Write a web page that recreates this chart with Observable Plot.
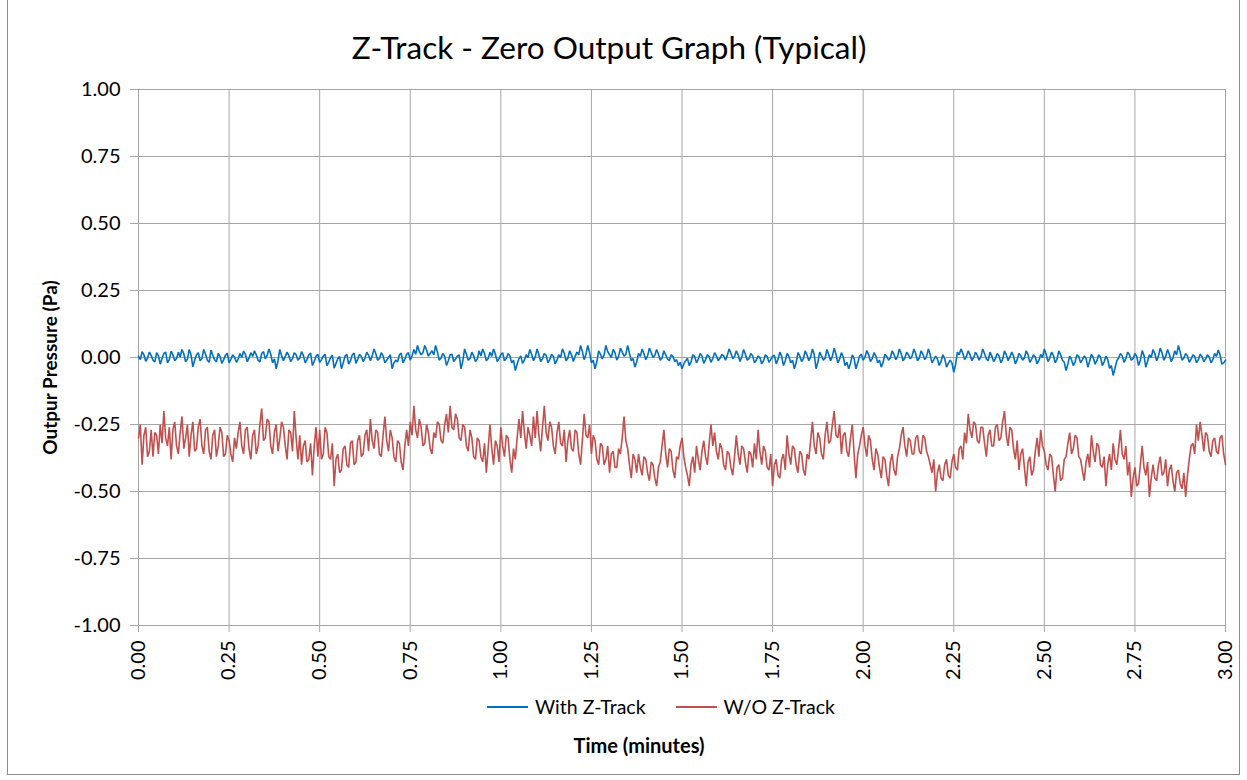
<!DOCTYPE html>
<html>
<head>
<meta charset="utf-8">
<script src="https://cdn.jsdelivr.net/npm/d3@7"></script>
<script src="https://cdn.jsdelivr.net/npm/@observablehq/plot@0.6"></script>
<style>
  html, body { margin: 0; padding: 0; background: #fff; }
  #chart { position: relative; width: 1247px; height: 780px; overflow: hidden; font-family: Lato, "Open Sans", sans-serif; }
  #chart svg { position: absolute; left: 0; top: 0; }
  #border { position: absolute; left: 7px; top: -2px; width: 1233px; height: 777px; border: 1px solid #8c8c8c; box-sizing: border-box; }
  #legend { position: absolute; top: 695px; left: 487px; display: flex; align-items: center; font-size: 19.5px; line-height: 24px; color: #000; white-space: nowrap; }
  .sw { display: inline-block; width: 41px; height: 2px; margin-right: 7px; }
  .item { display: flex; align-items: center; }
</style>
</head>
<body>
<div id="chart">
  <div id="border"></div>
</div>
<script>
const title = "Z-Track - Zero Output Graph (Typical)";
const yLabel = "Outpur Pressure (Pa)";
const xLabel = "Time (minutes)";
const seriesNames = ["With Z-Track", "W/O Z-Track"];
const seriesColors = ["#0070C0", "#C0504D"];
const xTicks = [0, 0.25, 0.5, 0.75, 1, 1.25, 1.5, 1.75, 2, 2.25, 2.5, 2.75, 3];
const yTicks = [-1, -0.75, -0.5, -0.25, 0, 0.25, 0.5, 0.75, 1];
const timeStep = 0.01; // minutes between main samples; the *Mid arrays sit half a step later

// With Z-Track (Pa) at 0.00, 0.01, ... 3.00 min
const withZ = [
 0.005,0.022,-0.014,0.020,-0.010, 0.018,-0.025,0.015,-0.020,0.024,
 -0.012,0.020,0.030,-0.016,0.030, -0.035,0.010,-0.012,0.030,-0.010,
 0.028,-0.008,0.015,-0.022,0.008, -0.020,0.010,-0.018,0.015,0.024,
 -0.015,0.018,0.025,-0.010,0.015, -0.005,0.032,-0.020,-0.042,0.030,
 -0.012,0.020,-0.015,0.018,-0.010, 0.022,-0.020,0.010,-0.030,0.005,
 -0.018,0.005,-0.030,0.000,-0.040, -0.005,-0.042,0.005,-0.025,0.010,
 -0.022,0.012,-0.015,0.020,-0.012, 0.032,-0.010,0.018,-0.020,0.000,
 -0.042,-0.010,0.010,-0.020,0.012, -0.010,0.030,0.045,0.010,0.045,
 0.005,0.025,0.045,-0.010,0.015, -0.030,0.010,-0.015,0.005,-0.042,
 0.032,-0.010,0.020,-0.015,0.025, 0.032,-0.012,0.020,0.032,-0.015,
 0.010,-0.012,0.015,-0.020,-0.049, -0.005,-0.022,0.010,0.030,-0.012,
 0.032,-0.015,0.015,-0.020,0.012, -0.024,0.010,0.032,-0.012,0.025,
 -0.015,0.020,0.045,-0.008,0.045, -0.020,-0.042,0.025,-0.005,0.045,
 0.010,0.030,-0.010,0.035,0.005, 0.045,-0.012,-0.036,0.015,0.032,
 -0.008,0.035,0.000,0.030,-0.010, 0.025,-0.005,0.010,-0.015,-0.030,
 -0.042,-0.012,-0.030,0.010,-0.020, 0.015,-0.022,0.010,-0.018,0.018,
 -0.012,0.012,-0.010,0.032,-0.005, 0.025,-0.015,0.030,-0.010,0.015,
 -0.020,0.005,-0.024,0.010,-0.018, 0.005,-0.024,0.020,-0.030,0.015,
 -0.020,-0.042,0.018,-0.015,0.025, -0.012,0.032,-0.042,0.020,-0.010,
 0.030,-0.012,0.035,-0.020,0.018, -0.030,-0.042,0.010,-0.042,0.005,
 -0.010,0.026,-0.015,0.018,-0.020, -0.036,0.012,-0.010,0.025,-0.008,
 0.032,-0.012,0.020,-0.005,0.032, -0.012,0.025,-0.008,0.032,-0.020,
 0.005,-0.030,0.010,-0.036,-0.010, -0.055,0.020,0.032,-0.008,0.025,
 -0.012,0.020,-0.010,0.032,-0.005, 0.020,-0.015,0.015,-0.020,0.025,
 -0.012,0.020,-0.024,0.015,-0.010, 0.025,-0.018,0.010,-0.024,0.012,
 0.032,-0.015,0.020,-0.020,0.025, -0.010,-0.049,0.005,-0.030,0.010,
 -0.020,0.005,-0.036,0.012,-0.025, 0.010,-0.030,0.005,-0.040,-0.067,
 -0.012,0.015,-0.018,0.020,-0.010, 0.015,-0.030,0.026,-0.036,0.010,
 0.030,-0.012,0.035,-0.010,0.030, -0.015,0.025,0.045,-0.010,0.015,
 -0.018,0.010,-0.020,0.012,-0.015, 0.010,-0.020,0.015,0.028,-0.025,
 -0.010
];
// With Z-Track (Pa) at 0.005, 0.015, ... 2.995 min
const withZMid = [
 -0.008,0.010,-0.002,0.008,-0.016, 0.006,-0.004,0.020,-0.008,0.010,
 -0.004,0.002,0.014,-0.006,0.010, -0.010,0.018,-0.004,0.012,-0.018,
 0.008,-0.016,0.004,-0.008,0.016, -0.006,0.002,-0.006,0.000,0.012,
 -0.002,0.004,0.010,-0.016,0.022, 0.008,0.012,-0.005,-0.012,0.006,
 0.004,0.006,-0.004,0.010,-0.002, 0.008,-0.008,0.016,-0.014,0.012,
 -0.008,0.012,-0.018,0.008,-0.022, 0.004,-0.020,0.012,-0.012,0.016,
 -0.006,0.004,-0.002,0.008,0.006, 0.014,-0.004,0.006,-0.010,0.010,
 -0.020,-0.016,0.016,-0.006,0.018, 0.006,0.012,0.022,0.018,0.028,
 0.016,0.010,0.020,-0.002,0.004, -0.012,0.012,-0.006,0.010,-0.014,
 0.012,-0.004,0.006,-0.006,0.006, 0.014,-0.004,0.004,0.012,-0.004,
 0.018,-0.004,0.006,-0.010,-0.024, 0.006,-0.010,0.000,0.012,0.002,
 0.010,-0.004,0.008,-0.008,0.004, -0.010,0.000,0.016,-0.002,0.010,
 0.004,0.010,0.022,0.012,0.018, -0.010,-0.016,0.012,0.010,0.022,
 0.000,0.018,0.004,0.020,0.012, 0.016,-0.004,-0.016,0.004,0.014,
 0.006,0.018,0.008,0.012,-0.002, 0.010,-0.012,0.004,-0.008,-0.018,
 -0.024,-0.004,-0.016,0.004,-0.006, 0.006,-0.008,0.004,-0.004,0.006,
 -0.002,0.006,0.008,0.016,0.004, 0.010,0.002,0.012,-0.004,0.006,
 -0.010,0.000,-0.012,0.004,-0.008, 0.008,-0.006,0.004,-0.012,0.004,
 -0.010,-0.020,0.006,-0.004,0.010, 0.002,0.010,-0.018,0.006,-0.002,
 0.010,0.004,0.012,-0.006,0.002, -0.018,-0.022,-0.004,-0.020,0.012,
 0.002,0.010,-0.004,0.006,-0.010, -0.018,0.004,-0.002,0.012,0.004,
 0.014,-0.002,0.010,0.006,0.014, -0.002,0.012,0.004,0.010,-0.008,
 -0.006,-0.014,-0.004,-0.022,-0.020, -0.026,0.010,0.016,0.004,0.010,
 0.000,0.008,0.004,0.014,-0.012, 0.006,-0.004,0.006,-0.006,0.010,
 0.002,0.006,-0.008,0.006,-0.002, 0.010,-0.006,0.002,-0.010,0.000,
 0.012,-0.002,0.008,-0.006,0.010, -0.018,-0.024,-0.008,-0.016,0.004,
 -0.008,-0.002,-0.014,0.000,-0.012, 0.002,-0.016,-0.008,-0.030,-0.040,
 -0.002,0.006,-0.004,0.010,-0.004, 0.004,-0.010,0.008,-0.014,0.000,
 0.014,0.006,0.016,0.004,0.012, -0.002,0.010,0.020,-0.002,0.006,
 -0.006,0.004,-0.008,0.004,-0.006, 0.002,-0.008,0.004,0.010,-0.020
];

// W/O Z-Track (Pa) at 0.00, 0.01, ... 3.00 min
const withoutZ = [
 -0.30,-0.40,-0.26,-0.35,-0.37, -0.29,-0.25,-0.20,-0.33,-0.38,
 -0.24,-0.36,-0.22,-0.30,-0.37, -0.24,-0.34,-0.23,-0.36,-0.26,
 -0.38,-0.27,-0.33,-0.28,-0.36, -0.31,-0.39,-0.34,-0.24,-0.36,
 -0.26,-0.38,-0.27,-0.33,-0.19, -0.30,-0.24,-0.36,-0.25,-0.30,
 -0.26,-0.38,-0.28,-0.20,-0.38, -0.40,-0.31,-0.38,-0.44,-0.26,
 -0.27,-0.36,-0.28,-0.38,-0.48, -0.36,-0.42,-0.33,-0.41,-0.31,
 -0.39,-0.29,-0.36,-0.27,-0.23, -0.34,-0.28,-0.37,-0.22,-0.35,
 -0.30,-0.39,-0.32,-0.42,-0.27, -0.24,-0.18,-0.30,-0.26,-0.32,
 -0.28,-0.36,-0.30,-0.25,-0.32, -0.21,-0.18,-0.27,-0.23,-0.31,
 -0.26,-0.35,-0.30,-0.38,-0.31, -0.39,-0.43,-0.25,-0.40,-0.33,
 -0.26,-0.37,-0.30,-0.43,-0.38, -0.23,-0.20,-0.34,-0.29,-0.22,
 -0.20,-0.35,-0.18,-0.31,-0.26, -0.36,-0.24,-0.33,-0.39,-0.27,
 -0.35,-0.28,-0.40,-0.21,-0.30, -0.36,-0.31,-0.40,-0.33,-0.38,
 -0.43,-0.35,-0.41,-0.36,-0.22, -0.34,-0.45,-0.38,-0.36,-0.44,
 -0.38,-0.46,-0.40,-0.48,-0.39, -0.27,-0.41,-0.35,-0.45,-0.38,
 -0.30,-0.41,-0.48,-0.37,-0.33, -0.42,-0.31,-0.40,-0.25,-0.28,
 -0.38,-0.34,-0.42,-0.36,-0.44, -0.29,-0.40,-0.34,-0.43,-0.36,
 -0.32,-0.27,-0.40,-0.35,-0.42, -0.48,-0.38,-0.45,-0.36,-0.29,
 -0.40,-0.34,-0.43,-0.36,-0.44, -0.38,-0.24,-0.36,-0.30,-0.38,
 -0.24,-0.31,-0.20,-0.30,-0.36, -0.28,-0.37,-0.25,-0.45,-0.33,
 -0.26,-0.37,-0.31,-0.42,-0.36, -0.45,-0.38,-0.48,-0.36,-0.44,
 -0.34,-0.26,-0.37,-0.31,-0.36, -0.29,-0.36,-0.30,-0.37,-0.43,
 -0.50,-0.40,-0.46,-0.38,-0.45, -0.36,-0.42,-0.33,-0.28,-0.21,
 -0.30,-0.25,-0.32,-0.26,-0.37, -0.27,-0.33,-0.25,-0.30,-0.20,
 -0.33,-0.27,-0.38,-0.42,-0.34, -0.48,-0.37,-0.42,-0.30,-0.27,
 -0.35,-0.42,-0.37,-0.50,-0.40, -0.45,-0.37,-0.28,-0.34,-0.30,
 -0.38,-0.46,-0.36,-0.29,-0.39, -0.33,-0.41,-0.48,-0.36,-0.32,
 -0.40,-0.27,-0.38,-0.44,-0.52, -0.41,-0.47,-0.33,-0.44,-0.52,
 -0.40,-0.46,-0.37,-0.43,-0.48, -0.40,-0.50,-0.42,-0.49,-0.52,
 -0.38,-0.32,-0.25,-0.24,-0.35, -0.29,-0.37,-0.30,-0.36,-0.29,
 -0.40
];
// W/O Z-Track (Pa) at 0.005, 0.015, ... 2.995 min
const withoutZMid = [
 -0.25,-0.29,-0.37,-0.27,-0.28, -0.36,-0.32,-0.30,-0.26,-0.27,
 -0.33,-0.28,-0.34,-0.25,-0.29, -0.35,-0.26,-0.33,-0.27,-0.35,
 -0.29,-0.37,-0.26,-0.37,-0.29, -0.36,-0.30,-0.28,-0.33,-0.27,
 -0.34,-0.29,-0.36,-0.25,-0.31, -0.23,-0.33,-0.28,-0.35,-0.24,
 -0.33,-0.27,-0.35,-0.30,-0.29, -0.33,-0.39,-0.32,-0.33,-0.37,
 -0.38,-0.26,-0.37,-0.32,-0.38, -0.43,-0.34,-0.40,-0.32,-0.40,
 -0.31,-0.37,-0.29,-0.35,-0.31, -0.27,-0.36,-0.29,-0.31,-0.27,
 -0.37,-0.31,-0.39,-0.33,-0.33, -0.29,-0.27,-0.23,-0.33,-0.25,
 -0.34,-0.28,-0.24,-0.31,-0.25, -0.28,-0.26,-0.21,-0.30,-0.25,
 -0.33,-0.27,-0.37,-0.30,-0.37, -0.32,-0.34,-0.34,-0.31,-0.39,
 -0.33,-0.29,-0.38,-0.34,-0.30, -0.30,-0.28,-0.26,-0.33,-0.30,
 -0.29,-0.26,-0.28,-0.24,-0.33, -0.28,-0.32,-0.27,-0.31,-0.34,
 -0.27,-0.36,-0.31,-0.29,-0.25, -0.29,-0.38,-0.32,-0.40,-0.33,
 -0.36,-0.41,-0.34,-0.30,-0.31, -0.40,-0.36,-0.43,-0.41,-0.37,
 -0.43,-0.39,-0.45,-0.41,-0.33, -0.36,-0.34,-0.42,-0.37,-0.33,
 -0.37,-0.44,-0.40,-0.43,-0.38, -0.35,-0.37,-0.32,-0.33,-0.35,
 -0.32,-0.40,-0.35,-0.41,-0.37, -0.36,-0.33,-0.39,-0.35,-0.41,
 -0.38,-0.35,-0.33,-0.41,-0.36, -0.40,-0.44,-0.38,-0.42,-0.36,
 -0.33,-0.40,-0.35,-0.42,-0.36, -0.31,-0.33,-0.28,-0.36,-0.29,
 -0.32,-0.25,-0.29,-0.25,-0.29, -0.35,-0.30,-0.36,-0.36,-0.29,
 -0.33,-0.29,-0.38,-0.34,-0.41, -0.37,-0.44,-0.39,-0.42,-0.37,
 -0.29,-0.33,-0.30,-0.36,-0.30, -0.35,-0.29,-0.35,-0.40,-0.38,
 -0.43,-0.45,-0.40,-0.44,-0.39, -0.41,-0.34,-0.38,-0.32,-0.27,
 -0.24,-0.31,-0.26,-0.32,-0.29, -0.33,-0.26,-0.31,-0.24,-0.29,
 -0.26,-0.34,-0.31,-0.36,-0.41, -0.39,-0.44,-0.35,-0.37,-0.33,
 -0.40,-0.36,-0.44,-0.41,-0.46, -0.38,-0.32,-0.36,-0.29,-0.37,
 -0.42,-0.39,-0.41,-0.35,-0.32, -0.40,-0.37,-0.40,-0.42,-0.38,
 -0.34,-0.36,-0.33,-0.39,-0.45, -0.48,-0.40,-0.41,-0.39,-0.45,
 -0.45,-0.40,-0.44,-0.38,-0.42, -0.46,-0.43,-0.47,-0.43,-0.44,
 -0.33,-0.36,-0.31,-0.29,-0.28, -0.35,-0.31,-0.35,-0.30,-0.36
];

const toRows = (main, mid, name) => {
  const out = [];
  main.forEach((v, i) => {
    out.push({t: i * timeStep, v, series: name});
    if (i < mid.length) out.push({t: (i + 0.5) * timeStep, v: mid[i], series: name});
  });
  return out;
};
const rows = [...toRows(withZ, withZMid, seriesNames[0]), ...toRows(withoutZ, withoutZMid, seriesNames[1])];

const fmt = d => d.toFixed(2);
const gridColor = "#a6a6a6";
const font = "Lato, 'Open Sans', sans-serif";

const plot = Plot.plot({
  width: 1247,
  height: 780,
  marginLeft: 138,
  marginRight: 22,
  marginTop: 89,
  marginBottom: 155,
  x: {domain: [0, 3]},
  y: {domain: [-1, 1]},
  color: {domain: seriesNames, range: seriesColors},
  style: {fontFamily: font, fontSize: "20px", color: "#000", background: "transparent", overflow: "visible"},
  marks: [
    Plot.gridX(xTicks, {stroke: gridColor, strokeOpacity: 1}),
    Plot.gridY(yTicks, {stroke: gridColor, strokeOpacity: 1}),
    Plot.axisX(xTicks, {tickFormat: fmt, tickRotate: -90, tickSize: 7, tickPadding: 8, stroke: gridColor, fill: "#000", label: null, fontSize: 20}),
    Plot.axisY(yTicks, {tickFormat: fmt, tickSize: 8, tickPadding: 10, stroke: gridColor, fill: "#000", label: null, fontSize: 20}),
    Plot.line(rows, {x: "t", y: "v", z: "series", stroke: "series", strokeWidth: 1.6, strokeLinejoin: "miter"}),
    Plot.text([title], {frameAnchor: "top", lineAnchor: "middle", dx: -73, dy: -41, fontSize: 31.5, fill: "#000"}),
    Plot.text([yLabel], {frameAnchor: "left", textAnchor: "middle", lineAnchor: "middle", dx: -88, dy: 10, rotate: -90, fontSize: 19, fontWeight: "bold", fill: "#000"}),
    Plot.text([xLabel], {frameAnchor: "bottom", lineAnchor: "middle", dx: -43, dy: 121, fontSize: 20, fontWeight: "bold", fill: "#000"})
  ]
});
document.getElementById("chart").appendChild(plot);

const legend = document.createElement("div");
legend.id = "legend";
seriesNames.forEach((name, i) => {
  const item = document.createElement("span");
  item.className = "item";
  item.style.marginRight = i === 0 ? "30px" : "0";
  const sw = document.createElement("span");
  sw.className = "sw";
  sw.style.background = seriesColors[i];
  item.appendChild(sw);
  item.appendChild(document.createTextNode(name));
  legend.appendChild(item);
});
document.getElementById("chart").appendChild(legend);
</script>
</body>
</html>
